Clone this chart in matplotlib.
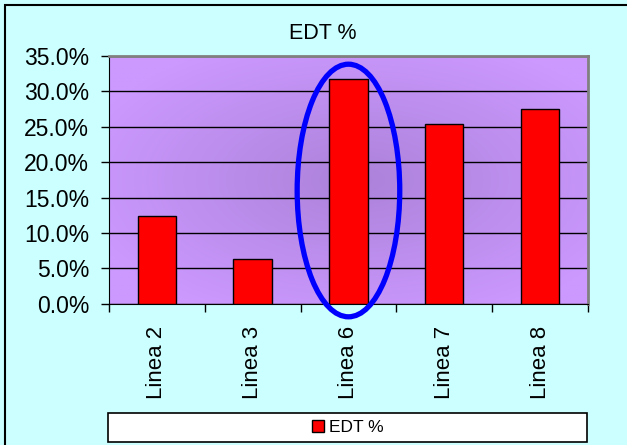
import numpy as np
import matplotlib.pyplot as plt
from matplotlib.patches import Ellipse, Rectangle
from matplotlib.ticker import PercentFormatter, FixedLocator, NullFormatter
from matplotlib.colors import LinearSegmentedColormap

categories = ["Linea 2", "Linea 3", "Linea 6", "Linea 7", "Linea 8"]
edt = [12.4, 6.3, 31.7, 25.4, 27.5]
highlight = "Linea 6"

plt.rcParams['font.family'] = ['Liberation Sans', 'DejaVu Sans']

fig = plt.figure(figsize=(6.27, 4.45), dpi=100)
fig.patch.set_facecolor("#CCFFFF")

# outer border (only left and top are visible)
fig.add_artist(Rectangle((5 / 627, -0.2), 1.5, 1.2 - 5 / 445,
                         transform=fig.transFigure, fill=False,
                         edgecolor="black", linewidth=1.5))

ax = fig.add_axes([0.1735, 0.3175, 0.7645, 0.5565])
x = np.arange(len(categories))

# radial purple gradient background
yy, xx = np.mgrid[0:1:200j, 0:1:300j]
r = np.sqrt(((xx - 0.52) / 0.6) ** 2 + ((yy - 0.5) / 0.6) ** 2)
cmap = LinearSegmentedColormap.from_list("pp", ["#AC82DA", "#CC99FF"])
ax.imshow(np.clip(r, 0, 1), cmap=cmap, extent=[-0.5, 4.5, 0, 35],
          aspect="auto", zorder=0, interpolation="bilinear")

ax.bar(x, edt, width=0.4, color="#FF0000", edgecolor="black",
       linewidth=1, label="EDT %", zorder=3)

ax.set_xlim(-0.5, 4.5)
ax.set_ylim(0, 35)
ax.set_yticks(np.arange(0, 36, 5))
ax.yaxis.set_major_formatter(PercentFormatter(decimals=1))
ax.yaxis.grid(True, color="black", linewidth=1)
for gl in ax.get_ygridlines():
    gl.set_zorder(1)

ax.xaxis.set_major_locator(FixedLocator(np.arange(-0.5, 4.6, 1)))
ax.xaxis.set_major_formatter(NullFormatter())
ax.xaxis.set_minor_locator(FixedLocator(x))
ax.set_xticklabels(categories, minor=True, rotation=90)
ax.tick_params(axis="x", which="minor", length=0, labelsize=16, pad=16)
ax.tick_params(axis="x", which="major", length=6, width=1)
ax.tick_params(axis="y", length=6, width=1, labelsize=16.5, pad=8)

ax.spines["left"].set_color("black")
ax.spines["bottom"].set_color("black")
ax.spines["top"].set_color("#808080")
ax.spines["right"].set_color("#808080")
ax.spines["top"].set_linewidth(2)
ax.spines["right"].set_linewidth(2)

hi = categories.index(highlight)
ax.add_patch(Ellipse((hi, 16.0), 1.07, 35.7, fill=False, edgecolor="#0000FF",
                     linewidth=3.8, zorder=5, clip_on=False))

fig.text(0.515, 0.925, "EDT %", ha="center", va="center", fontsize=15.5)

fig.add_artist(Rectangle((108 / 627, 3.5 / 445), 479 / 627, 28.5 / 445,
                         transform=fig.transFigure, facecolor="white",
                         edgecolor="black", linewidth=1.2))
fig.legend(loc="center", bbox_to_anchor=(0.555, 17.5 / 445), frameon=False,
           fontsize=12.5, handlelength=0.7, handleheight=0.7, handletextpad=0.3)

fig.savefig("out.png", dpi=100, facecolor=fig.get_facecolor())
